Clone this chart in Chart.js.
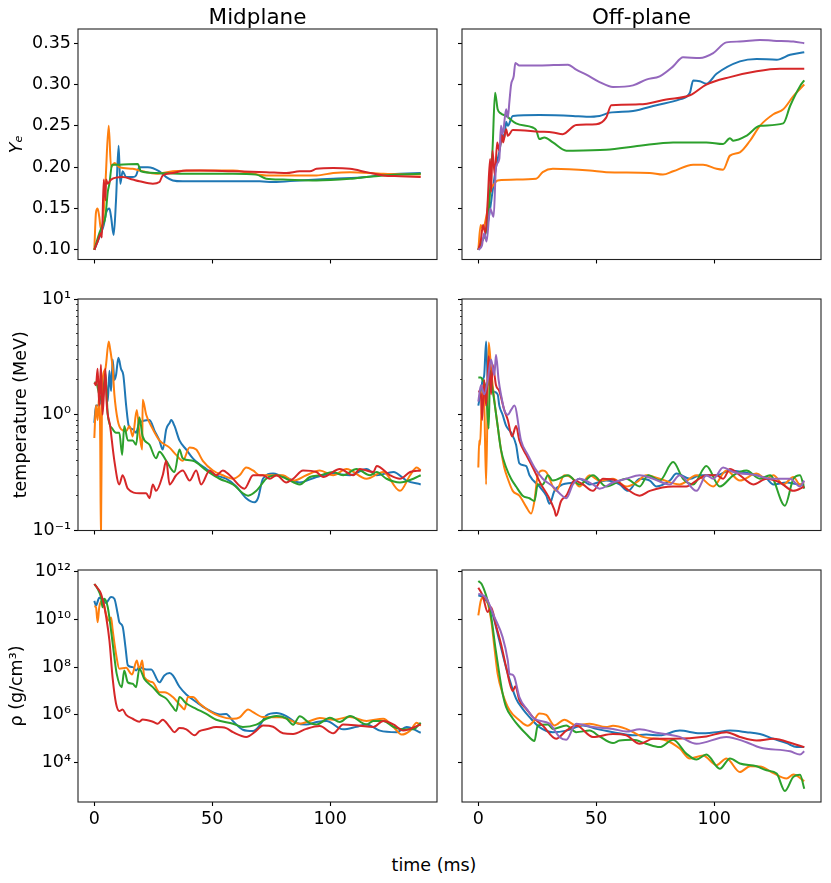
<!DOCTYPE html>
<html>
<head>
<meta charset="utf-8">
<script src="https://cdn.jsdelivr.net/npm/chart.js@4.4.1/dist/chart.umd.min.js"></script>
<style>
  body { margin: 0; background: #fff; }
  #fig { position: relative; width: 831px; height: 883px; font-family: "DejaVu Sans", sans-serif; overflow: hidden; }
  #fig canvas { position: absolute; }
  #xlabel { position: absolute; left: 0; width: 868px; top: 855px; line-height: 20px; text-align: center; font-size: 17.5px; color: #000; }
</style>
</head>
<body>
<div id="fig">
  <div id="xlabel">time (ms)</div>
</div>
<script>
// ---- Ye, midplane ----
const yeMidBlueT = [0, 1.4, 2.8, 4.0, 5.0, 6.4, 7.1, 8.2, 9.2, 10.3, 11.0, 12.0, 13.5, 16.3, 17.7, 19.1, 22.7, 27.6, 30.5, 33.3, 37.5, 44.6, 58.8, 70.1, 75.8, 87.1, 101.3, 115.4, 122.5, 129.6, 138.4];
const yeMidBlue = [0.100, 0.110, 0.120, 0.130, 0.145, 0.150, 0.140, 0.118, 0.160, 0.226, 0.180, 0.195, 0.188, 0.188, 0.190, 0.200, 0.200, 0.195, 0.188, 0.184, 0.183, 0.183, 0.183, 0.183, 0.182, 0.184, 0.186, 0.188, 0.191, 0.192, 0.193];
const yeMidOrangeT = [0, 0.7, 1.4, 2.1, 2.8, 3.5, 4.7, 6.1, 7.1, 8.5, 10.6, 16.3, 20.5, 26.2, 33.3, 44.6, 58.8, 65.9, 72.9, 87.1, 94.2, 101.3, 108.4, 122.5, 138.4];
const yeMidOrange = [0.100, 0.145, 0.150, 0.140, 0.125, 0.130, 0.180, 0.250, 0.200, 0.205, 0.200, 0.198, 0.195, 0.192, 0.195, 0.196, 0.196, 0.193, 0.190, 0.190, 0.190, 0.193, 0.194, 0.192, 0.191];
const yeMidGreenT = [0, 2.1, 3.5, 4.7, 5.7, 6.4, 7.5, 10.6, 18.4, 19.8, 26.2, 37.5, 58.8, 68.7, 72.9, 80.0, 94.2, 108.4, 115.4, 122.5, 138.4];
const yeMidGreen = [0.100, 0.120, 0.130, 0.140, 0.170, 0.180, 0.203, 0.203, 0.204, 0.195, 0.193, 0.192, 0.192, 0.191, 0.186, 0.185, 0.184, 0.186, 0.188, 0.190, 0.192];
const yeMidRedT = [0, 1.4, 2.8, 3.2, 4.0, 4.7, 5.0, 5.7, 7.1, 12.0, 16.3, 19.1, 24.8, 27.6, 29.0, 33.3, 39.0, 44.6, 58.8, 72.9, 81.4, 87.1, 91.4, 94.2, 101.3, 108.4, 115.4, 122.5, 129.6, 138.4];
const yeMidRed = [0.100, 0.110, 0.120, 0.115, 0.185, 0.160, 0.185, 0.180, 0.185, 0.188, 0.185, 0.183, 0.180, 0.182, 0.190, 0.193, 0.196, 0.196, 0.195, 0.194, 0.193, 0.195, 0.195, 0.198, 0.199, 0.198, 0.194, 0.190, 0.189, 0.188];

// ---- Ye, off-plane ----
const yeOffBlueT = [0, 1.5, 3.0, 4.5, 6.0, 7.5, 9.0, 10.3, 11.0, 11.8, 12.5, 14.6, 25.9, 40.1, 45.8, 51.4, 55.7, 65.6, 75.5, 85.4, 89.7, 91.1, 93.9, 96.7, 101.0, 110.9, 118.0, 126.5, 132.2, 138.2];
const yeOffBlue = [0.100, 0.110, 0.120, 0.140, 0.170, 0.200, 0.220, 0.240, 0.235, 0.255, 0.250, 0.262, 0.263, 0.262, 0.261, 0.262, 0.266, 0.268, 0.275, 0.282, 0.290, 0.305, 0.304, 0.301, 0.313, 0.328, 0.331, 0.330, 0.336, 0.339];
const yeOffOrangeT = [0, 1.0, 2.0, 3.0, 4.0, 5.0, 6.8, 8.2, 24.5, 27.3, 31.6, 47.2, 54.2, 72.7, 78.3, 82.6, 91.1, 95.3, 101.0, 103.8, 106.7, 110.9, 115.2, 119.4, 125.1, 129.3, 133.6, 138.2];
const yeOffOrange = [0.100, 0.130, 0.125, 0.135, 0.150, 0.170, 0.180, 0.184, 0.186, 0.194, 0.198, 0.196, 0.194, 0.193, 0.191, 0.195, 0.203, 0.203, 0.198, 0.197, 0.214, 0.218, 0.232, 0.250, 0.264, 0.270, 0.286, 0.300];
const yeOffGreenT = [0, 1.5, 3.0, 4.5, 5.5, 6.0, 7.1, 8.2, 9.6, 11.8, 16.0, 23.1, 24.5, 25.9, 28.0, 31.6, 37.3, 40.1, 54.2, 68.4, 82.6, 96.7, 103.8, 106.7, 108.1, 113.7, 119.4, 129.3, 132.2, 136.4, 138.2];
const yeOffGreen = [0.100, 0.110, 0.120, 0.150, 0.200, 0.220, 0.290, 0.270, 0.265, 0.262, 0.253, 0.248, 0.245, 0.234, 0.236, 0.230, 0.220, 0.220, 0.221, 0.226, 0.230, 0.230, 0.228, 0.235, 0.232, 0.238, 0.250, 0.253, 0.274, 0.298, 0.305];
const yeOffRedT = [0, 1.0, 2.0, 3.0, 4.0, 5.0, 5.4, 6.0, 7.0, 8.0, 8.9, 10.0, 10.5, 11.8, 12.5, 14.6, 25.9, 31.6, 35.8, 41.5, 50.0, 54.2, 56.4, 68.4, 79.7, 89.7, 96.7, 106.7, 118.0, 127.9, 138.2];
const yeOffRed = [0.100, 0.110, 0.130, 0.120, 0.160, 0.210, 0.170, 0.220, 0.190, 0.230, 0.220, 0.240, 0.230, 0.246, 0.238, 0.245, 0.243, 0.242, 0.240, 0.251, 0.252, 0.260, 0.275, 0.276, 0.282, 0.287, 0.300, 0.309, 0.316, 0.319, 0.319];
const yeOffPurpleT = [0, 1.5, 2.5, 3.5, 5.0, 6.5, 7.5, 8.9, 9.6, 10.3, 11.8, 12.5, 13.2, 13.9, 15.0, 15.7, 17.4, 25.9, 38.0, 41.5, 45.8, 51.4, 57.1, 65.6, 71.2, 76.9, 82.6, 86.8, 93.9, 99.6, 105.2, 110.9, 119.4, 125.1, 133.6, 138.2];
const yeOffPurple = [0.100, 0.105, 0.120, 0.110, 0.150, 0.140, 0.200, 0.210, 0.250, 0.240, 0.270, 0.260, 0.280, 0.300, 0.310, 0.326, 0.323, 0.323, 0.324, 0.318, 0.312, 0.303, 0.297, 0.299, 0.306, 0.310, 0.322, 0.333, 0.332, 0.338, 0.351, 0.352, 0.354, 0.353, 0.352, 0.350];

// ---- temperature (MeV), midplane ----
const tMidBlueT = [0, 0.7, 2.1, 3.5, 4.7, 5.7, 6.4, 7.1, 7.8, 8.5, 9.2, 10.2, 11.3, 12.3, 13.5, 14.6, 16.3, 17.7, 19.1, 23.4, 25.5, 27.6, 29.0, 30.5, 31.9, 32.6, 34.0, 36.1, 39.0, 41.8, 47.5, 51.7, 55.9, 60.2, 64.4, 68.0, 69.4, 71.5, 75.8, 78.6, 84.3, 87.1, 94.2, 101.3, 108.4, 115.4, 119.7, 126.8, 132.4, 138.4];
const tMidBlue = [0.85, 1.2, 1.2, 1.6, 2.0, 1.3, 2.4, 1.6, 3.0, 2.0, 2.2, 3.1, 2.5, 2.2, 1.2, 0.8, 0.75, 0.7, 0.85, 0.9, 0.73, 0.6, 0.5, 0.75, 0.85, 0.9, 0.8, 0.6, 0.5, 0.42, 0.34, 0.3, 0.28, 0.24, 0.19, 0.175, 0.19, 0.28, 0.31, 0.3, 0.27, 0.26, 0.29, 0.31, 0.3, 0.34, 0.3, 0.32, 0.27, 0.25];
const tMidOrangeT = [0, 0.7, 1.4, 2.1, 2.5, 2.8, 3.2, 3.5, 4.7, 6.1, 6.7, 7.8, 8.5, 9.9, 11.3, 13.5, 14.9, 16.3, 18.0, 19.1, 20.3, 20.5, 22.0, 24.1, 27.6, 31.9, 34.7, 37.5, 40.4, 43.2, 46.0, 50.3, 54.5, 58.8, 61.6, 64.4, 67.3, 70.1, 80.0, 84.3, 89.9, 95.6, 101.3, 106.9, 115.4, 122.5, 129.6, 133.9, 136.7, 138.4];
const tMidOrange = [0.63, 1.2, 0.9, 1.5, 0.6, 0.08, 1.0, 2.0, 2.5, 4.3, 3.7, 2.5, 1.5, 0.9, 0.75, 0.72, 0.8, 0.65, 1.1, 0.7, 0.5, 1.35, 1.0, 0.8, 0.6, 0.52, 0.45, 0.4, 0.52, 0.5, 0.4, 0.33, 0.3, 0.28, 0.3, 0.35, 0.33, 0.3, 0.3, 0.27, 0.3, 0.33, 0.3, 0.34, 0.28, 0.32, 0.22, 0.3, 0.35, 0.33];
const tMidGreenT = [0, 0.7, 2.1, 3.5, 4.7, 5.7, 7.8, 9.2, 10.6, 11.8, 12.7, 14.2, 16.3, 17.7, 19.1, 20.5, 23.4, 26.2, 27.6, 30.5, 34.0, 36.1, 37.5, 41.8, 47.5, 53.1, 58.8, 63.0, 65.2, 68.7, 72.9, 77.2, 81.4, 87.1, 91.4, 95.6, 101.3, 105.5, 111.2, 116.9, 119.7, 123.9, 129.6, 135.3, 138.4];
const tMidGreen = [1.9, 1.9, 1.5, 1.3, 2.3, 1.0, 0.75, 0.7, 0.7, 0.45, 0.8, 0.6, 0.6, 0.55, 0.95, 0.65, 0.55, 0.42, 0.48, 0.4, 0.32, 0.5, 0.42, 0.4, 0.33, 0.28, 0.25, 0.21, 0.2, 0.22, 0.28, 0.3, 0.28, 0.25, 0.29, 0.3, 0.32, 0.3, 0.34, 0.3, 0.32, 0.28, 0.26, 0.28, 0.3];
const tMidRedT = [0, 0.7, 1.4, 2.1, 2.8, 3.5, 4.7, 5.2, 6.7, 8.5, 10.6, 12.0, 14.2, 19.1, 22.0, 23.4, 24.8, 26.2, 29.0, 30.5, 31.9, 34.7, 37.5, 40.4, 43.2, 45.3, 48.9, 51.7, 54.5, 57.4, 63.7, 67.3, 71.5, 74.4, 77.2, 81.4, 84.3, 88.5, 94.2, 97.0, 104.1, 109.8, 112.6, 118.3, 119.7, 125.4, 129.6, 133.9, 138.4];
const tMidRed = [1.9, 1.8, 2.5, 1.2, 2.7, 1.0, 2.5, 1.3, 0.8, 0.4, 0.25, 0.3, 0.23, 0.21, 0.21, 0.19, 0.25, 0.22, 0.3, 0.4, 0.25, 0.3, 0.33, 0.27, 0.33, 0.25, 0.33, 0.3, 0.33, 0.3, 0.23, 0.3, 0.3, 0.28, 0.3, 0.26, 0.28, 0.33, 0.32, 0.29, 0.34, 0.3, 0.34, 0.32, 0.36, 0.3, 0.28, 0.32, 0.33];

// ---- temperature (MeV), off-plane ----
const tOffBlueT = [0, 1.1, 1.8, 2.5, 3.3, 4.0, 4.7, 6.1, 8.2, 8.9, 10.3, 11.8, 13.9, 16.0, 17.4, 20.3, 21.7, 25.9, 28.8, 30.2, 32.3, 35.8, 40.1, 42.9, 47.2, 54.2, 59.9, 63.5, 68.4, 72.7, 75.5, 81.2, 84.0, 89.7, 93.9, 101.0, 106.7, 112.3, 118.0, 122.2, 125.1, 130.7, 136.4, 138.2];
const tOffBlue = [1.2, 1.6, 2.0, 2.2, 4.3, 2.0, 1.8, 1.6, 1.5, 1.2, 1.0, 0.8, 0.7, 0.55, 0.38, 0.36, 0.3, 0.24, 0.2, 0.17, 0.22, 0.25, 0.26, 0.28, 0.25, 0.27, 0.25, 0.22, 0.28, 0.27, 0.24, 0.27, 0.31, 0.28, 0.3, 0.3, 0.33, 0.32, 0.3, 0.28, 0.25, 0.26, 0.25, 0.25];
const tOffOrangeT = [0, 0.4, 0.7, 1.6, 2.3, 3.3, 4.4, 5.4, 6.5, 8.2, 9.6, 11.0, 12.5, 14.6, 17.4, 20.3, 22.4, 23.8, 25.2, 27.3, 28.8, 33.0, 36.5, 40.1, 42.9, 47.2, 51.4, 57.1, 62.7, 67.0, 71.2, 76.9, 85.4, 92.5, 99.6, 105.2, 110.9, 118.0, 122.2, 125.1, 129.3, 133.6, 136.4, 138.2];
const tOffOrange = [0.35, 0.6, 0.55, 1.5, 1.8, 0.25, 4.2, 2.5, 1.5, 0.8, 0.5, 0.35, 0.28, 0.22, 0.2, 0.16, 0.14, 0.18, 0.3, 0.33, 0.32, 0.22, 0.3, 0.28, 0.24, 0.3, 0.27, 0.28, 0.24, 0.26, 0.3, 0.28, 0.25, 0.3, 0.24, 0.33, 0.27, 0.31, 0.28, 0.3, 0.25, 0.29, 0.25, 0.26];
const tOffGreenT = [0, 1.1, 1.8, 3.3, 4.4, 5.0, 5.8, 6.8, 8.2, 9.6, 11.8, 13.9, 16.0, 18.8, 21.7, 23.8, 25.2, 27.3, 29.5, 31.6, 38.0, 42.9, 48.6, 54.2, 62.7, 68.4, 72.0, 76.9, 82.6, 86.8, 91.1, 96.7, 102.4, 108.1, 113.7, 119.4, 123.7, 130.0, 133.6, 136.4, 138.2];
const tOffGreen = [2.1, 2.1, 2.0, 1.6, 0.76, 2.4, 1.8, 1.3, 0.8, 0.5, 0.35, 0.28, 0.24, 0.2, 0.19, 0.18, 0.25, 0.25, 0.3, 0.27, 0.3, 0.25, 0.3, 0.24, 0.28, 0.24, 0.3, 0.27, 0.39, 0.28, 0.25, 0.36, 0.24, 0.3, 0.33, 0.28, 0.3, 0.164, 0.28, 0.3, 0.23];
const tOffRedT = [0, 1.1, 1.6, 2.5, 3.3, 4.4, 5.4, 6.1, 7.5, 8.9, 11.0, 12.5, 14.3, 16.0, 17.4, 20.3, 23.1, 26.6, 29.5, 32.3, 33.0, 35.1, 37.3, 40.8, 44.3, 48.6, 52.8, 58.5, 62.7, 68.4, 72.7, 82.6, 88.2, 92.5, 96.7, 101.0, 103.8, 106.7, 110.9, 116.6, 122.2, 127.9, 133.6, 138.2];
const tOffRed = [1.6, 1.5, 0.9, 2.0, 1.2, 3.2, 1.5, 2.7, 1.8, 1.6, 1.1, 0.9, 0.65, 0.8, 0.6, 0.45, 0.35, 0.25, 0.2, 0.15, 0.134, 0.18, 0.2, 0.27, 0.25, 0.22, 0.28, 0.27, 0.23, 0.2, 0.22, 0.24, 0.24, 0.27, 0.3, 0.3, 0.28, 0.34, 0.3, 0.25, 0.28, 0.26, 0.22, 0.24];
const tOffPurpleT = [0, 1.1, 2.5, 4.0, 5.4, 6.8, 7.5, 8.6, 9.6, 11.0, 12.5, 13.9, 15.3, 18.1, 21.0, 23.8, 27.3, 31.6, 34.4, 37.3, 40.1, 42.9, 48.6, 51.4, 57.1, 62.7, 68.4, 74.1, 81.2, 85.4, 92.5, 96.7, 99.6, 103.8, 108.1, 118.0, 123.7, 132.2, 136.4, 138.2];
const tOffPurple = [1.3, 1.8, 1.5, 2.0, 3.0, 2.2, 3.3, 2.0, 1.5, 1.1, 1.0, 1.1, 1.2, 0.6, 0.45, 0.35, 0.28, 0.24, 0.21, 0.19, 0.25, 0.28, 0.25, 0.23, 0.26, 0.28, 0.3, 0.28, 0.25, 0.3, 0.22, 0.3, 0.28, 0.35, 0.32, 0.3, 0.28, 0.28, 0.24, 0.27];

// ---- density (g/cm^3), midplane ----
const rhoMidBlueT = [0, 0.7, 2.1, 3.5, 4.9, 7.1, 8.5, 9.9, 10.6, 12.0, 13.2, 14.2, 16.3, 17.7, 19.1, 22.0, 24.1, 27.6, 29.7, 31.9, 33.3, 36.1, 39.0, 43.2, 47.5, 53.1, 55.9, 58.8, 63.0, 67.3, 70.1, 72.9, 77.2, 81.4, 85.7, 89.9, 94.2, 98.4, 105.5, 111.2, 115.4, 121.1, 128.2, 132.4, 138.4];
const rhoMidBlue = [5.9e10, 3.8e10, 7.9e10, 7.2e10, 4.8e10, 8.5e10, 7.2e10, 1.7e10, 7.6e9, 5.0e9, 6.9e8, 1.2e8, 1.0e8, 7.2e7, 1.0e8, 7.9e7, 7.9e7, 2.3e7, 4.5e7, 5.6e7, 4.5e7, 1.5e7, 7.2e6, 3.5e6, 1.8e6, 1.05e6, 1.1e6, 5.5e5, 2.4e5, 2.1e5, 3.6e5, 9.5e5, 1.2e6, 8.9e5, 4.6e5, 4.0e5, 5.0e5, 5.5e5, 2.5e5, 3.2e5, 4.0e5, 2.2e5, 1.9e5, 3.1e5, 1.8e5];
const rhoMidOrangeT = [0, 0.7, 1.4, 2.1, 3.5, 5.0, 6.1, 7.1, 7.8, 9.2, 10.6, 13.5, 16.0, 18.0, 19.1, 20.3, 21.2, 24.8, 27.6, 29.7, 33.3, 36.8, 38.2, 39.7, 41.8, 44.6, 48.9, 53.1, 58.8, 61.6, 65.2, 67.3, 71.5, 78.6, 81.4, 87.1, 91.4, 95.6, 101.3, 108.4, 115.4, 122.5, 126.8, 130.3, 133.9, 136.7, 138.4];
const rhoMidOrange = [3.5e10, 3.2e10, 7.6e9, 3.2e10, 6.2e10, 1.6e10, 8.9e9, 1.2e10, 3.4e9, 3.6e8, 8.5e7, 9.3e7, 4.9e7, 1.9e8, 7.9e7, 1.9e8, 3.8e7, 2.3e7, 8.9e6, 8.9e6, 5.6e6, 2.3e6, 1.7e6, 5.6e6, 5.6e6, 3.0e6, 1.45e6, 8.9e5, 6.9e5, 7.9e5, 1.7e6, 1.3e6, 8.1e5, 7.9e5, 7.1e5, 4.3e5, 5.6e5, 7.4e5, 6.3e5, 8.1e5, 5.6e5, 6.9e5, 3.1e5, 1.5e5, 2.2e5, 4.7e5, 3.5e5];
const rhoMidGreenT = [0, 1.4, 2.8, 3.5, 4.2, 5.7, 7.1, 8.5, 9.5, 11.6, 12.7, 14.2, 16.3, 17.7, 19.1, 21.2, 24.8, 27.6, 30.5, 33.3, 34.7, 36.1, 39.0, 43.2, 47.5, 51.7, 58.8, 63.0, 68.7, 72.9, 77.2, 81.4, 84.3, 87.1, 91.4, 94.2, 99.9, 104.1, 108.4, 115.4, 118.3, 122.5, 126.8, 129.6, 135.3, 138.4];
const rhoMidGreen = [3.0e11, 1.9e11, 8.5e10, 3.2e10, 7.2e10, 3.2e10, 3.4e9, 2.6e8, 5.2e7, 1.45e7, 7.2e7, 2.3e7, 2.0e7, 1.45e7, 8.5e7, 3.2e7, 1.45e7, 7.2e6, 4.8e6, 2.1e6, 1.45e6, 5.6e6, 3.0e6, 1.8e6, 1.1e6, 6.3e5, 4.3e5, 3.1e5, 3.9e5, 6.9e5, 8.9e5, 7.1e5, 3.9e5, 8.7e5, 4.5e5, 4.0e5, 7.6e5, 5.0e5, 8.9e5, 4.0e5, 5.6e5, 5.6e5, 3.2e5, 2.6e5, 2.5e5, 4.7e5];
const rhoMidRedT = [0, 1.4, 2.8, 4.2, 5.0, 6.4, 7.8, 9.2, 10.6, 12.0, 13.5, 16.3, 19.1, 20.5, 24.8, 26.9, 29.0, 31.9, 34.0, 36.1, 39.0, 42.5, 44.6, 47.5, 51.7, 55.9, 58.8, 64.4, 68.7, 71.5, 75.8, 80.0, 84.3, 89.9, 95.6, 101.3, 105.5, 112.6, 118.3, 122.5, 126.8, 131.0, 138.4];
const rhoMidRed = [3.0e11, 2.0e11, 1.2e11, 3.5e10, 1.3e10, 1.3e9, 3.2e7, 3.0e6, 1.45e6, 1.7e6, 1.0e6, 6.9e5, 5.2e5, 6.5e5, 5.2e5, 4.3e5, 6.3e5, 3.2e5, 1.9e5, 2.8e5, 2.5e5, 1.4e5, 2.1e5, 2.5e5, 3.1e5, 2.8e5, 1.9e5, 1.2e5, 2.2e5, 3.6e5, 3.2e5, 1.7e5, 1.6e5, 2.6e5, 3.4e5, 1.7e5, 4.0e5, 3.5e5, 3.1e5, 5.5e5, 4.0e5, 2.2e5, 4.0e5];

// ---- density (g/cm^3), off-plane ----
const rhoOffBlueT = [0, 1.8, 4.7, 6.1, 8.9, 11.8, 16.0, 18.8, 21.7, 25.9, 31.6, 37.3, 44.3, 50.0, 57.1, 65.6, 71.2, 76.9, 85.4, 93.9, 101.0, 106.7, 113.7, 119.4, 125.1, 130.7, 135.0, 138.2];
const rhoOffBlue = [1.0e11, 8.5e10, 3.8e10, 1.6e10, 1.3e9, 9.3e7, 4.8e6, 1.8e6, 8.1e5, 3.1e5, 1.9e5, 2.2e5, 3.6e5, 2.6e5, 1.9e5, 1.4e5, 1.5e5, 1.4e5, 2.2e5, 1.7e5, 1.9e5, 2.2e5, 1.9e5, 1.6e5, 1.0e5, 6.6e4, 4.5e4, 4.5e4];
const rhoOffOrangeT = [0, 1.1, 2.5, 5.4, 6.8, 8.2, 10.3, 13.2, 17.4, 21.0, 23.1, 25.9, 28.8, 32.3, 36.5, 41.5, 47.2, 54.2, 57.1, 62.7, 69.8, 79.7, 85.4, 89.7, 95.3, 101.0, 105.2, 110.9, 115.2, 119.4, 125.1, 130.7, 133.6, 138.2];
const rhoOffOrange = [1.45e10, 6.2e10, 8.5e10, 1.0e10, 6.9e8, 5.2e7, 7.9e6, 1.6e6, 6.0e5, 3.5e5, 5.0e5, 1.15e6, 1.0e6, 3.6e5, 6.3e5, 3.6e5, 4.3e5, 3.1e5, 3.5e5, 2.6e5, 1.2e5, 8.5e4, 3.9e4, 1.5e4, 2.0e4, 7.9e3, 1.5e4, 4.1e3, 7.1e3, 6.9e3, 3.7e3, 2.2e3, 3.2e3, 1.7e3];
const rhoOffGreenT = [0, 1.4, 3.3, 4.7, 5.8, 7.2, 8.9, 10.3, 11.8, 14.6, 17.4, 20.3, 23.8, 25.2, 29.5, 31.6, 37.3, 41.5, 47.2, 51.4, 57.1, 59.9, 65.6, 71.2, 76.9, 82.6, 88.2, 92.5, 96.7, 102.4, 106.7, 110.9, 118.0, 122.2, 126.5, 130.0, 133.6, 136.4, 138.2];
const rhoOffGreen = [4.0e11, 3.0e11, 1.0e11, 3.2e10, 7.6e9, 6.9e8, 5.2e7, 7.9e6, 2.1e6, 7.1e5, 3.2e5, 1.6e5, 8.1e4, 3.6e5, 4.0e5, 2.6e5, 3.6e5, 1.9e5, 2.2e5, 1.26e5, 6.6e4, 8.5e4, 9.1e4, 6.2e4, 4.5e4, 9.1e4, 2.4e4, 1.35e4, 2.2e4, 5.6e3, 1.5e4, 9.3e3, 7.1e3, 4.8e3, 3.5e3, 660, 2.6e3, 3.1e3, 810];
const rhoOffRedT = [0, 1.8, 4.0, 5.4, 7.5, 9.6, 11.8, 14.6, 15.7, 17.4, 20.3, 23.1, 27.3, 33.0, 37.3, 41.5, 48.6, 57.1, 62.7, 68.4, 74.1, 82.6, 96.7, 105.2, 110.9, 118.0, 125.1, 133.6, 138.2];
const rhoOffRed = [2.1e11, 1.0e11, 2.0e10, 3.2e10, 5.5e9, 9.5e8, 1.0e8, 1.0e7, 1.6e7, 4.1e6, 1.8e6, 8.1e5, 3.6e5, 1.0e5, 2.2e5, 3.6e5, 1.2e5, 1.6e5, 1.4e5, 6.2e4, 1.0e5, 1.0e5, 1.26e5, 1.9e5, 1.2e5, 8.5e4, 1.0e5, 6.2e4, 4.5e4];
const rhoOffPurpleT = [0, 3.3, 6.8, 10.3, 12.5, 13.2, 14.3, 15.3, 17.4, 21.0, 23.8, 30.2, 34.4, 37.3, 41.5, 48.6, 57.1, 62.7, 68.4, 75.5, 85.4, 92.5, 105.2, 113.7, 119.4, 132.2, 136.4, 138.2];
const rhoOffPurple = [1.2e11, 7.9e10, 1.26e10, 1.8e9, 1.9e8, 5.2e7, 4.9e7, 3.8e7, 5.6e6, 1.55e6, 6.9e5, 4.3e5, 1.2e5, 9.1e4, 4.3e5, 3.1e5, 2.6e5, 2.0e5, 2.5e5, 1.8e5, 1.2e5, 6.2e4, 1.2e5, 7.2e4, 4.3e4, 3.0e4, 2.2e4, 3.0e4];

// ---- ticks ----
const xTicks = [0, 50, 100];
const yeTicks = [0.10, 0.15, 0.20, 0.25, 0.30, 0.35];
const tempTicks = [0.1, 1, 10];
const tempMinorTicks = [0.2, 0.3, 0.4, 0.5, 0.6, 0.7, 0.8, 0.9, 2, 3, 4, 5, 6, 7, 8, 9];
const rhoTicks = [1e4, 1e6, 1e8, 1e10, 1e12];

const colors = { blue: "#1f77b4", orange: "#ff7f0e", green: "#2ca02c", red: "#d62728", purple: "#9467bd" };
const FONT = "DejaVu Sans";

const SUP = { "0": "⁰", "1": "¹", "2": "²", "3": "³", "4": "⁴", "5": "⁵", "6": "⁶", "7": "⁷", "8": "⁸", "9": "⁹", "-": "⁻" };
function powLabel(v) {
  const e = Math.round(Math.log10(v));
  return "10" + String(e).split("").map((c) => SUP[c]).join("");
}

const rows = [
  { type: "linear", min: 0.0883, max: 0.3672, major: yeTicks, minor: [], fmt: (v) => v.toFixed(2), title: "Yₑ", titleStyle: "italic", titlePad: 6.5 },
  { type: "logarithmic", min: 0.1, max: 10, major: tempTicks, minor: tempMinorTicks, fmt: powLabel, title: "temperature (MeV)", titleStyle: "normal", titlePad: 10.5 },
  { type: "logarithmic", min: 227, max: 1.156e12, major: rhoTicks, minor: [], fmt: powLabel, title: "ρ (g/cm³)", titleStyle: "normal", titlePad: 6.5 },
];

const panels = [
  { row: 0, col: 0, title: "Midplane", series: [[yeMidBlueT, yeMidBlue, "blue"], [yeMidOrangeT, yeMidOrange, "orange"], [yeMidGreenT, yeMidGreen, "green"], [yeMidRedT, yeMidRed, "red"]] },
  { row: 0, col: 1, title: "Off-plane", series: [[yeOffBlueT, yeOffBlue, "blue"], [yeOffOrangeT, yeOffOrange, "orange"], [yeOffGreenT, yeOffGreen, "green"], [yeOffRedT, yeOffRed, "red"], [yeOffPurpleT, yeOffPurple, "purple"]] },
  { row: 1, col: 0, series: [[tMidBlueT, tMidBlue, "blue"], [tMidOrangeT, tMidOrange, "orange"], [tMidGreenT, tMidGreen, "green"], [tMidRedT, tMidRed, "red"]] },
  { row: 1, col: 1, series: [[tOffBlueT, tOffBlue, "blue"], [tOffOrangeT, tOffOrange, "orange"], [tOffGreenT, tOffGreen, "green"], [tOffRedT, tOffRed, "red"], [tOffPurpleT, tOffPurple, "purple"]] },
  { row: 2, col: 0, series: [[rhoMidBlueT, rhoMidBlue, "blue"], [rhoMidOrangeT, rhoMidOrange, "orange"], [rhoMidGreenT, rhoMidGreen, "green"], [rhoMidRedT, rhoMidRed, "red"]] },
  { row: 2, col: 1, series: [[rhoOffBlueT, rhoOffBlue, "blue"], [rhoOffOrangeT, rhoOffOrange, "orange"], [rhoOffGreenT, rhoOffGreen, "green"], [rhoOffRedT, rhoOffRed, "red"], [rhoOffPurpleT, rhoOffPurple, "purple"]] },
];

// axes frame on all four sides + column titles
const framePlugin = {
  id: "frame",
  afterDraw(chart, args, opts) {
    const { ctx, chartArea: a } = chart;
    ctx.save();
    ctx.strokeStyle = "#222";
    ctx.lineWidth = 1.1;
    ctx.strokeRect(a.left, a.top, a.right - a.left, a.bottom - a.top);
    if (opts.title) {
      ctx.fillStyle = "#000";
      ctx.font = `21.5px "${FONT}"`;
      ctx.textAlign = "center";
      ctx.textBaseline = "alphabetic";
      ctx.fillText(opts.title, (a.left + a.right) / 2, a.top - 5.5);
    }
    ctx.restore();
  },
};

const colLeft = [78, 462];
const rowTop = [29, 299, 570];
const rowH = [232, 233, 232];
const plotW = 359;

const fig = document.getElementById("fig");

panels.forEach((p) => {
  const r = rows[p.row];
  const canvasLeft = p.col === 0 ? 0 : colLeft[1] - 14;
  const padL = colLeft[p.col] - canvasLeft;
  const padT = 28, padR = 8;
  const padB = p.row === 2 ? 40 : 12;
  const w = padL + plotW + padR;
  const h = padT + rowH[p.row] + padB;

  const canvas = document.createElement("canvas");
  canvas.width = w;
  canvas.height = h;
  canvas.style.left = canvasLeft + "px";
  canvas.style.top = rowTop[p.row] - padT + "px";
  canvas.style.width = w + "px";
  canvas.style.height = h + "px";
  fig.appendChild(canvas);

  // later series drawn on top, like the original
  const datasets = p.series.slice().reverse().map(([ts, vs, c]) => ({
    data: ts.map((t, i) => ({ x: t, y: vs[i] })),
    borderColor: colors[c],
    borderWidth: 2,
    pointRadius: 0,
    cubicInterpolationMode: "monotone",
    fill: false,
  }));

  new Chart(canvas, {
    type: "line",
    data: { datasets },
    plugins: [framePlugin],
    options: {
      responsive: false,
      animation: false,
      events: [],
      layout: { padding: { top: padT, right: padR, left: 0, bottom: 0 } },
      plugins: { legend: { display: false }, tooltip: { enabled: false }, frame: { title: p.title } },
      scales: {
        x: {
          type: "linear",
          min: -6.92,
          max: 145.3,
          border: { display: false },
          grid: { drawOnChartArea: false, drawTicks: true, tickLength: 4, tickColor: "#000", tickWidth: 1.1 },
          ticks: {
            autoSkip: false,
            maxRotation: 0,
            padding: 3,
            color: "#000",
            font: { family: FONT, size: 17.5 },
            callback: (v) => (p.row === 2 ? String(v) : ""),
          },
          afterBuildTicks: (s) => { s.ticks = xTicks.map((v) => ({ value: v })); },
          afterFit: (s) => { s.height = padB; },
        },
        y: {
          type: r.type,
          min: r.min,
          max: r.max,
          border: { display: false },
          grid: {
            drawOnChartArea: false,
            drawTicks: true,
            tickLength: 4,
            tickColor: "#000",
            tickWidth: (c) => (c.tick && c.tick.minor ? 0.8 : 1.1),
            tickBorderDash: (c) => (c.tick && c.tick.minor ? [0, 2, 2, 0] : []),
          },
          ticks: {
            autoSkip: false,
            padding: 3,
            color: "#000",
            font: { family: FONT, size: 17.5 },
            callback: function (v, i, ticks) {
              if (p.col !== 0 || ticks[i].minor) return "";
              return r.fmt(v);
            },
          },
          title: {
            display: p.col === 0,
            text: r.title,
            color: "#000",
            font: { family: FONT, size: 17.5, style: r.titleStyle },
            padding: { top: r.titlePad, bottom: 0 },
          },
          afterBuildTicks: (s) => {
            const all = r.major.map((v) => ({ value: v })).concat(r.minor.map((v) => ({ value: v, minor: true })));
            s.ticks = all.sort((a, b) => a.value - b.value);
          },
          afterFit: (s) => { s.width = padL; },
        },
      },
    },
  });
});
</script>
</body>
</html>
